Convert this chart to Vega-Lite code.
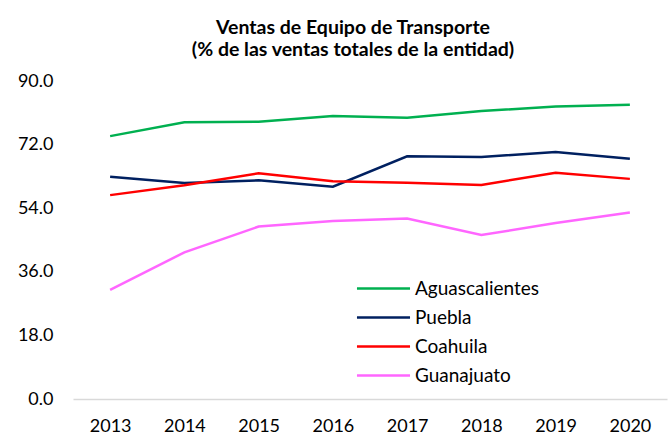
{
  "$schema": "https://vega.github.io/schema/vega-lite/v6.json",
  "width": 594,
  "height": 318,
  "autosize": {"type": "none"},
  "padding": {"left": 73, "top": 81, "right": 2, "bottom": 35},
  "background": "white",
  "title": {
    "text": ["Ventas de Equipo de Transporte", "(% de las ventas totales de la entidad)"],
    "font": "Lato",
    "fontSize": 19.5,
    "fontWeight": "bold",
    "color": "#000000",
    "anchor": "middle",
    "dx": -17,
    "offset": 12,
    "lineHeight": 22
  },
  "config": {"view": {"stroke": null}},
  "data": {
    "values": [
      {"year": "2013", "state": "Aguascalientes", "value": 74.4},
      {"year": "2014", "state": "Aguascalientes", "value": 78.3},
      {"year": "2015", "state": "Aguascalientes", "value": 78.5},
      {"year": "2016", "state": "Aguascalientes", "value": 80.1},
      {"year": "2017", "state": "Aguascalientes", "value": 79.6},
      {"year": "2018", "state": "Aguascalientes", "value": 81.5},
      {"year": "2019", "state": "Aguascalientes", "value": 82.8},
      {"year": "2020", "state": "Aguascalientes", "value": 83.3},
      {"year": "2013", "state": "Puebla", "value": 62.9},
      {"year": "2014", "state": "Puebla", "value": 61.1},
      {"year": "2015", "state": "Puebla", "value": 61.9},
      {"year": "2016", "state": "Puebla", "value": 60.1},
      {"year": "2017", "state": "Puebla", "value": 68.7},
      {"year": "2018", "state": "Puebla", "value": 68.5},
      {"year": "2019", "state": "Puebla", "value": 69.9},
      {"year": "2020", "state": "Puebla", "value": 68.0},
      {"year": "2013", "state": "Coahuila", "value": 57.7},
      {"year": "2014", "state": "Coahuila", "value": 60.5},
      {"year": "2015", "state": "Coahuila", "value": 63.9},
      {"year": "2016", "state": "Coahuila", "value": 61.6},
      {"year": "2017", "state": "Coahuila", "value": 61.2},
      {"year": "2018", "state": "Coahuila", "value": 60.6},
      {"year": "2019", "state": "Coahuila", "value": 64.0},
      {"year": "2020", "state": "Coahuila", "value": 62.3},
      {"year": "2013", "state": "Guanajuato", "value": 30.9},
      {"year": "2014", "state": "Guanajuato", "value": 41.5},
      {"year": "2015", "state": "Guanajuato", "value": 48.8},
      {"year": "2016", "state": "Guanajuato", "value": 50.4},
      {"year": "2017", "state": "Guanajuato", "value": 51.1},
      {"year": "2018", "state": "Guanajuato", "value": 46.4},
      {"year": "2019", "state": "Guanajuato", "value": 49.8},
      {"year": "2020", "state": "Guanajuato", "value": 52.8}
    ]
  },
  "mark": {"type": "line", "strokeWidth": 2.5},
  "encoding": {
    "x": {
      "field": "year",
      "type": "ordinal",
      "scale": {"type": "point", "padding": 0.5},
      "axis": {
        "title": null,
        "labelAngle": 0,
        "labelFont": "Lato",
        "labelFontSize": 18,
        "labelColor": "#000000",
        "labelPadding": 18,
        "ticks": false,
        "grid": false,
        "domain": true,
        "domainColor": "#D9D9D9",
        "domainWidth": 1.5
      }
    },
    "y": {
      "field": "value",
      "type": "quantitative",
      "scale": {"domain": [0, 90], "nice": false},
      "axis": {
        "title": null,
        "values": [0, 18, 36, 54, 72, 90],
        "format": ".1f",
        "domain": false,
        "ticks": false,
        "grid": false,
        "labelFont": "Lato",
        "labelFontSize": 18,
        "labelColor": "#000000",
        "labelPadding": 20
      }
    },
    "color": {
      "field": "state",
      "type": "nominal",
      "scale": {
        "domain": ["Aguascalientes", "Puebla", "Coahuila", "Guanajuato"],
        "range": ["#00B050", "#002060", "#FF0000", "#FF66FF"]
      },
      "legend": {
        "title": null,
        "orient": "none",
        "legendX": 301,
        "legendY": 198,
        "symbolType": "M-4,0L4,0",
        "symbolSize": 176,
        "symbolStrokeWidth": 2.5,
        "labelFont": "Lato",
        "labelFontSize": 19,
        "labelColor": "#000000",
        "labelOffset": 22,
        "rowPadding": 9
      }
    }
  }
}
